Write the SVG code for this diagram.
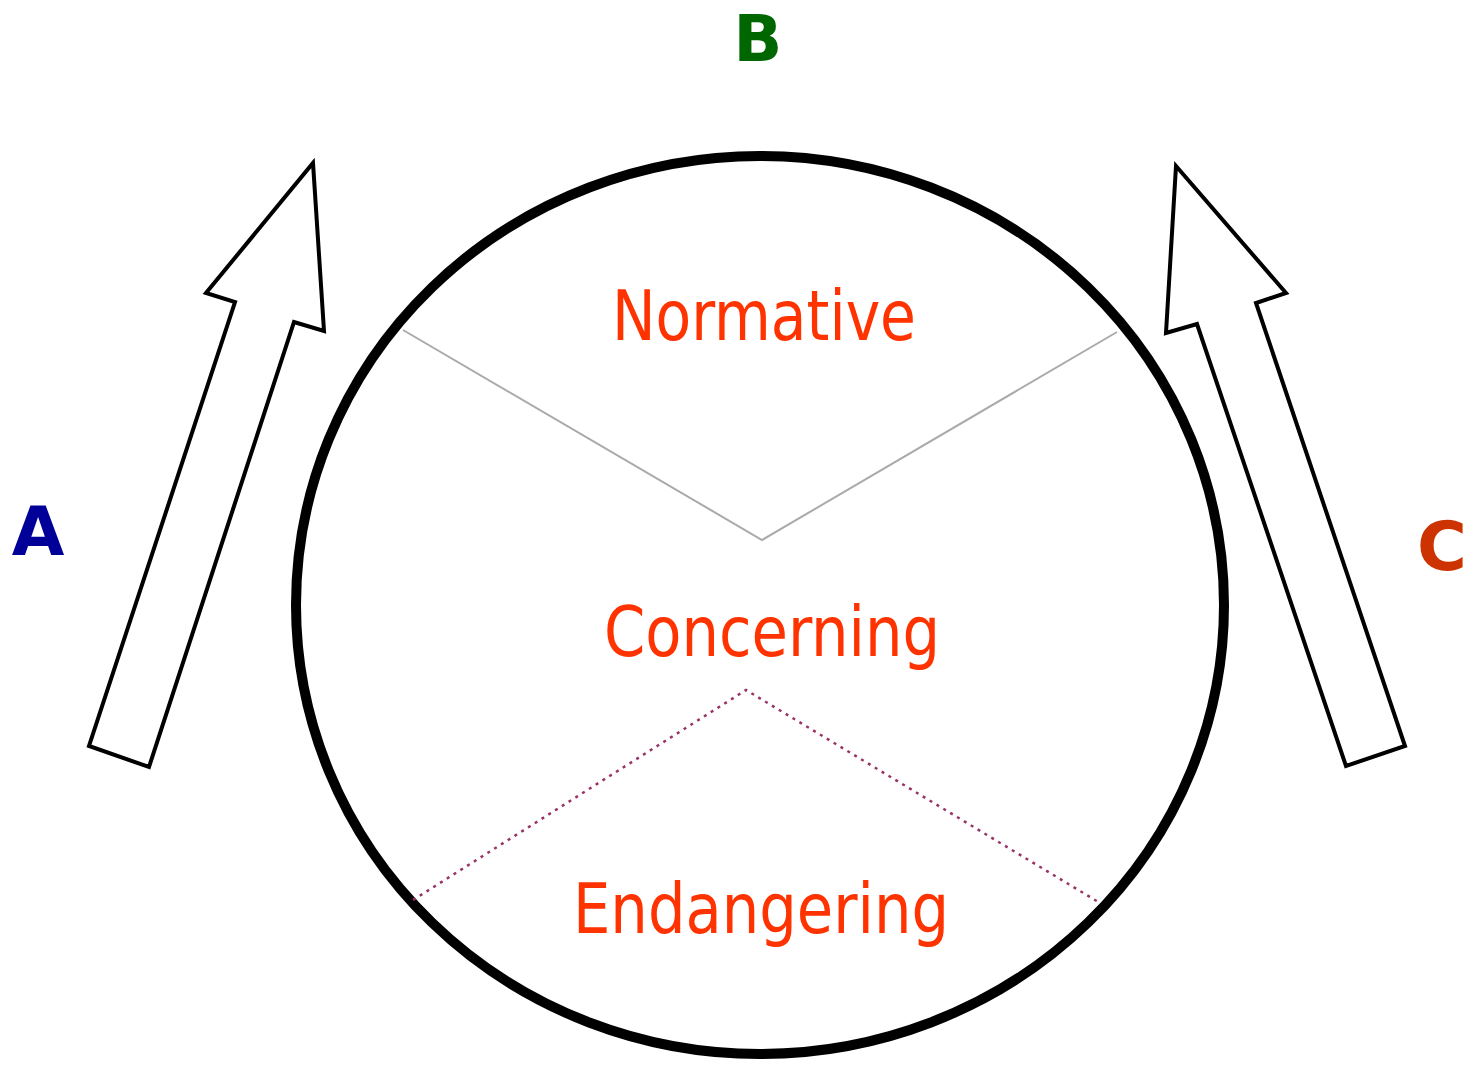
<svg xmlns="http://www.w3.org/2000/svg" width="1468" height="1066" viewBox="0 0 1468 1066">
<style>
.lbl{font-family:"DejaVu Sans Condensed","DejaVu Sans",sans-serif;fill:#ff3300;font-size:70px;text-anchor:middle}
.side{font-family:"DejaVu Sans","Liberation Sans",sans-serif;font-weight:bold;font-size:68px;text-anchor:middle}
.arrow{fill:#fff;stroke:#000;stroke-width:4;stroke-linejoin:miter}
</style>
<rect width="1468" height="1066" fill="#fff"/>
<g id="circle">
<ellipse cx="760" cy="605" rx="464" ry="449" fill="none" stroke="#000" stroke-width="10"/>
</g>
<g id="connectors">
<polyline points="403,330 762,540 1117,332" fill="none" stroke="#aaaaaa" stroke-width="2"/>
<polyline points="413,900 746,690 1100,903" fill="none" stroke="#993366" stroke-width="2.5" stroke-dasharray="3,5"/>
</g>
<g id="arrowA">
<polygon class="arrow" points="313,163 324,331 294,322 149,767 89,746 235,302 206,293"/>
</g>
<g id="arrowC">
<polygon class="arrow" points="1176,166 1286,293 1256,303 1405,746 1346,766 1197,324 1166,333"/>
</g>
<g id="normative"><text class="lbl" x="764" y="340" textLength="304" lengthAdjust="spacingAndGlyphs">Normative</text></g>
<g id="concerning"><text class="lbl" x="772" y="656" textLength="336" lengthAdjust="spacingAndGlyphs">Concerning</text></g>
<g id="endangering"><text class="lbl" x="761" y="933" textLength="376" lengthAdjust="spacingAndGlyphs">Endangering</text></g>
<g id="labelA"><text class="side" x="38" y="555" fill="#000099">A</text></g>
<g id="labelB"><text class="side" x="758" y="61" fill="#006600" style="font-size:64px">B</text></g>
<g id="labelC"><text class="side" x="1442" y="570" fill="#cc3300">C</text></g>
</svg>
